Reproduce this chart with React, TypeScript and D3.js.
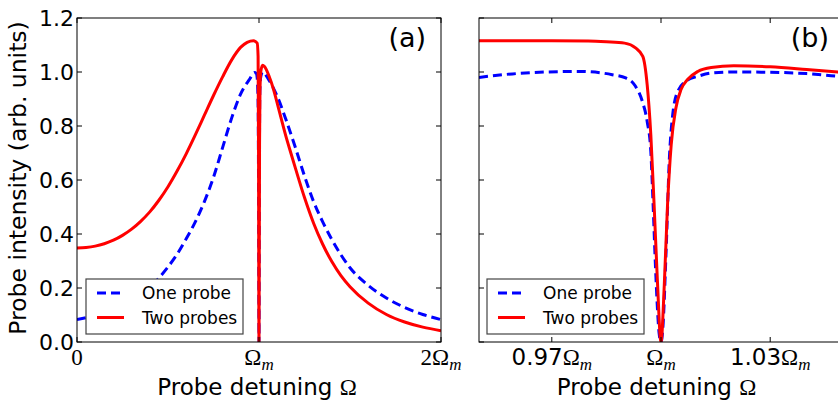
import React from 'react';
import * as d3 from 'd3';

const W = 838;
const H = 402;

// y axis (shared)
const yTicks = [0, 0.2, 0.4, 0.6, 0.8, 1.0, 1.2];
const yTickLabels = ['0.0', '0.2', '0.4', '0.6', '0.8', '1.0', '1.2'];

// panel (a) x ticks
const xTicksA = [0, 1, 2];
const xTickNumA = ['0', '', '2'];
const xTickOmegaA = [false, true, true];

// panel (b) x ticks
const xTicksB = [0.97, 1.0, 1.03];
const xTickNumB = ['0.97', '', '1.03'];
const xTickOmegaB = [true, true, true];

const seriesNames = ['One probe', 'Two probes'];

// panel (a): One probe (x in units of Ωm, intensity)
const onePanelA: [number, number][] = [
  [0, 0.083], [0.1, 0.098], [0.2, 0.12], [0.3, 0.152], [0.4, 0.2], [0.45, 0.237],
  [0.5, 0.278], [0.55, 0.325], [0.6, 0.382], [0.65, 0.445], [0.7, 0.52], [0.75, 0.61],
  [0.8, 0.72], [0.85, 0.83], [0.9, 0.92], [0.95, 0.975], [0.975, 0.998], [0.985, 0.995],
  [0.99, 0.978], [0.995, 0.89], [0.9978, 0.52], [1.0, 0], [1.0023, 0.68], [1.0046, 0.928],
  [1.01, 0.984], [1.02, 1.0], [1.05, 0.975], [1.1, 0.91], [1.15, 0.82], [1.2, 0.72],
  [1.25, 0.615], [1.3, 0.52], [1.35, 0.445], [1.4, 0.38], [1.5, 0.275], [1.6, 0.21],
  [1.7, 0.163], [1.8, 0.128], [1.9, 0.102], [2.0, 0.083],
];

// panel (a): Two probes
const twoPanelA: [number, number][] = [
  [0, 0.348], [0.05, 0.35], [0.1, 0.355], [0.15, 0.364], [0.2, 0.377], [0.25, 0.395],
  [0.3, 0.418], [0.35, 0.447], [0.4, 0.482], [0.45, 0.525], [0.5, 0.575], [0.55, 0.633],
  [0.6, 0.697], [0.65, 0.767], [0.7, 0.84], [0.75, 0.913], [0.8, 0.982], [0.85, 1.045],
  [0.9, 1.092], [0.935, 1.11], [0.97, 1.116], [0.99, 1.107], [0.995, 1.058],
  [0.9975, 0.7], [1.0, 0], [1.003, 0.73], [1.0055, 0.935], [1.01, 1.002], [1.02, 1.025],
  [1.03, 1.02], [1.055, 0.985], [1.08, 0.935], [1.1, 0.885], [1.125, 0.82], [1.15, 0.757],
  [1.175, 0.7], [1.2, 0.644], [1.25, 0.535], [1.3, 0.44], [1.35, 0.362], [1.4, 0.298],
  [1.45, 0.246], [1.5, 0.205], [1.6, 0.144], [1.7, 0.102], [1.8, 0.074], [1.9, 0.055],
  [2.0, 0.042],
];

// panel (b): One probe (zoom near Ωm)
const onePanelB: [number, number][] = [
  [0.95, 0.98], [0.9592, 0.993], [0.9683, 1.0], [0.9775, 1.002], [0.9866, 0.99],
  [0.9903, 0.978], [0.993, 0.947], [0.9949, 0.89], [0.9962, 0.817], [0.9972, 0.706],
  [0.9978, 0.52], [0.9985, 0.274], [0.9995, 0.03], [1.0, 0], [1.0005, 0.05],
  [1.0014, 0.336], [1.0023, 0.68], [1.0032, 0.84], [1.0046, 0.928], [1.0073, 0.97],
  [1.0101, 0.984], [1.0138, 0.996], [1.02, 1.0], [1.03, 0.999], [1.04, 0.994],
  [1.0487, 0.984], [1.05, 0.983],
];

// panel (b): Two probes
const twoPanelB: [number, number][] = [
  [0.95, 1.116], [0.96, 1.116], [0.97, 1.116], [0.98, 1.115], [0.985, 1.112],
  [0.99, 1.107], [0.993, 1.089], [0.995, 1.058], [0.9962, 0.953], [0.9972, 0.768],
  [0.9981, 0.51], [0.999, 0.23], [1.0, 0], [1.0009, 0.21], [1.0018, 0.51],
  [1.0028, 0.73], [1.0041, 0.867], [1.0055, 0.935], [1.0073, 0.972], [1.0101, 1.002],
  [1.0138, 1.017], [1.02, 1.023], [1.03, 1.019], [1.04, 1.009], [1.05, 0.998],
];

const SANS = "'DejaVu Sans', sans-serif";
const SERIF = "'Liberation Serif', 'DejaVu Serif', serif";
const BLUE = '#0000ff';
const RED = '#ff0000';

const top = 18;
const bottom = 342;
const y = d3.scaleLinear().domain([0, 1.2]).range([bottom, top]);

type PanelProps = {
  id: string;
  left: number;
  right: number;
  domain: [number, number];
  xTicks: number[];
  xNums: string[];
  xOmega: boolean[];
  numSerif: boolean;
  one: [number, number][];
  two: [number, number][];
  label: string;
  showYLabels: boolean;
  legendX: number;
};

function Panel(p: PanelProps) {
  const x = d3.scaleLinear().domain(p.domain).range([p.left, p.right]);
  const line = d3
    .line<[number, number]>()
    .x((d) => x(d[0]))
    .y((d) => y(d[1]))
    .curve(d3.curveMonotoneX);
  const tl = 5;
  const lx = p.legendX;
  const ly = 279;
  return (
    <g>
      <defs>
        <clipPath id={`clip-${p.id}`}>
          <rect x={p.left} y={top} width={p.right - p.left} height={bottom - top} />
        </clipPath>
      </defs>
      <g clipPath={`url(#clip-${p.id})`}>
        <path d={line(p.one) || ''} fill="none" stroke={BLUE} strokeWidth={3} strokeDasharray="9,5" />
        <path d={line(p.two) || ''} fill="none" stroke={RED} strokeWidth={3} strokeLinejoin="round" />
      </g>
      {/* frame */}
      <rect x={p.left} y={top} width={p.right - p.left} height={bottom - top} fill="none" stroke="#000" strokeWidth={1} />
      {/* y ticks */}
      {yTicks.map((t, i) => (
        <g key={`yt${i}`}>
          <line x1={p.left} x2={p.left + tl} y1={y(t)} y2={y(t)} stroke="#000" />
          <line x1={p.right} x2={p.right - tl} y1={y(t)} y2={y(t)} stroke="#000" />
          {p.showYLabels && (
            <text x={p.left - 3} y={y(t) + 8} textAnchor="end" fontFamily={SANS} fontSize={22}>
              {yTickLabels[i]}
            </text>
          )}
        </g>
      ))}
      {/* x ticks */}
      {p.xTicks.map((t, i) => (
        <g key={`xt${i}`}>
          <line x1={x(t)} x2={x(t)} y1={bottom} y2={bottom - tl} stroke="#000" />
          <line x1={x(t)} x2={x(t)} y1={top} y2={top + tl} stroke="#000" />
          <text x={x(t)} y={365} textAnchor="middle" fontSize={23}>
            {p.xNums[i] && (
              <tspan fontFamily={p.numSerif ? SERIF : SANS}>{p.xNums[i]}</tspan>
            )}
            {p.xOmega[i] && (
              <>
                <tspan fontFamily={SERIF} fontSize={23}>Ω</tspan>
                <tspan fontFamily={SERIF} fontStyle="italic" fontSize={17} dy={5}>m</tspan>
              </>
            )}
          </text>
        </g>
      ))}
      {/* x label */}
      <text x={(p.left + Math.min(p.right, W)) / 2 - 2} y={395} textAnchor="middle" fontFamily={SANS} fontSize={23}>
        Probe detuning <tspan fontFamily={SERIF}>Ω</tspan>
      </text>
      {/* panel tag */}
      <text x={Math.min(p.right, W) - (p.id === 'a' ? 15 : 9)} y={47} textAnchor="end" fontFamily={SANS} fontSize={27}>
        {p.label}
      </text>
      {/* legend */}
      <rect x={lx} y={ly} width={157} height={55} fill="#fff" stroke="#444" strokeWidth={1.2} />
      <line x1={lx + 11} x2={lx + 38} y1={ly + 14} y2={ly + 14} stroke={BLUE} strokeWidth={3} strokeDasharray="9,5" />
      <line x1={lx + 11} x2={lx + 38} y1={ly + 38.5} y2={ly + 38.5} stroke={RED} strokeWidth={3} />
      <text x={lx + 56} y={ly + 20} fontFamily={SANS} fontSize={17}>{seriesNames[0]}</text>
      <text x={lx + 56} y={ly + 44.5} fontFamily={SANS} fontSize={17}>{seriesNames[1]}</text>
    </g>
  );
}

export default function App() {
  return (
    <svg width={W} height={H} style={{ position: 'absolute', left: 0, top: 0, background: '#fff' }}>
      <rect width={W} height={H} fill="#fff" />
      <Panel
        id="a"
        left={77}
        right={441}
        domain={[0, 2]}
        xTicks={xTicksA}
        xNums={xTickNumA}
        xOmega={xTickOmegaA}
        numSerif={true}
        one={onePanelA}
        two={twoPanelA}
        label="(a)"
        showYLabels={true}
        legendX={86}
      />
      <Panel
        id="b"
        left={479}
        right={843}
        domain={[0.95, 1.05]}
        xTicks={xTicksB}
        xNums={xTickNumB}
        xOmega={xTickOmegaB}
        numSerif={false}
        one={onePanelB}
        two={twoPanelB}
        label="(b)"
        showYLabels={false}
        legendX={487}
      />
      <text
        transform="translate(26,178) rotate(-90)"
        textAnchor="middle"
        fontFamily={SANS}
        fontSize={23.5}
      >
        Probe intensity (arb. units)
      </text>
    </svg>
  );
}
